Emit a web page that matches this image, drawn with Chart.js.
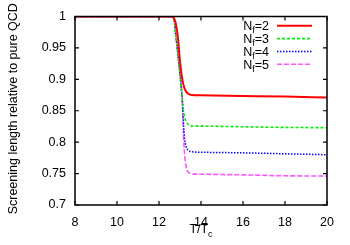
<!DOCTYPE html>
<html><head><meta charset="utf-8">
<script src="https://cdn.jsdelivr.net/npm/chart.js@4"></script>
<style>html,body{margin:0;padding:0;background:#fff}canvas{display:block}</style>
</head><body>
<canvas id="c" width="350" height="245"></canvas>
<script>
const temps = [8, 12.6, 12.7, 12.8, 12.9, 13.0, 13.1, 13.2, 13.3, 13.4, 13.5, 14, 16, 18, 20];
const nf2 = [1, 1, 0.998, 0.989, 0.967, 0.929, 0.902, 0.887, 0.880, 0.877, 0.8755, 0.8745, 0.8735, 0.8725, 0.871];
const nf3 = [1, 1, 0.997, 0.970, 0.940, 0.908, 0.871, 0.843, 0.832, 0.828, 0.826, 0.8255, 0.8245, 0.8235, 0.823];
const nf4 = [1, 1, 0.997, 0.970, 0.940, 0.908, 0.871, 0.812, 0.792, 0.787, 0.785, 0.784, 0.783, 0.7815, 0.780];
const nf5 = [1, 1, 0.997, 0.970, 0.940, 0.908, 0.871, 0.789, 0.760, 0.752, 0.750, 0.749, 0.748, 0.7465, 0.746];
const seriesNames = ["2", "3", "4", "5"];
const xTicks = [8, 10, 12, 14, 16, 18, 20];
const yTicks = [0.7, 0.75, 0.8, 0.85, 0.9, 0.95, 1];
const yTitle = "Screening length relative to pure QCD";

const FONT = "Liberation Sans, Arial, sans-serif";
const styles = [
  {color: '#ff0000', width: 2, dash: []},
  {color: '#00ee00', width: 1.6, dash: [3, 2]},
  {color: '#0000ff', width: 1.5, dash: [1.5, 1.5]},
  {color: '#ff55ff', width: 1.6, dash: [5, 2]}
];
const all = [nf2, nf3, nf4, nf5];
const datasets = all.map((arr, i) => ({
  label: 'Nf=' + seriesNames[i],
  data: temps.map((t, j) => ({x: t, y: arr[j]})),
  borderColor: styles[i].color,
  borderWidth: styles[i].width,
  borderDash: styles[i].dash,
  pointRadius: 0,
  fill: false,
  cubicInterpolationMode: 'monotone'
}));

const deco = {
  id: 'deco',
  afterDatasetsDraw(chart) {
    const ctx = chart.ctx, a = chart.chartArea;
    const xs = chart.scales.x, ys = chart.scales.y;
    ctx.save();
    ctx.strokeStyle = '#000';
    ctx.lineWidth = 1.5;
    ctx.setLineDash([]);
    ctx.strokeRect(a.left, a.top, a.right - a.left, a.bottom - a.top);
    ctx.lineWidth = 1.2;
    ctx.beginPath();
    xTicks.forEach(v => {
      const px = xs.getPixelForValue(v);
      ctx.moveTo(px, a.bottom); ctx.lineTo(px, a.bottom - 4);
      ctx.moveTo(px, a.top); ctx.lineTo(px, a.top + 4);
    });
    yTicks.forEach(v => {
      const py = ys.getPixelForValue(v);
      ctx.moveTo(a.left, py); ctx.lineTo(a.left + 4, py);
      ctx.moveTo(a.right, py); ctx.lineTo(a.right - 4, py);
    });
    ctx.stroke();

    // legend
    ctx.fillStyle = '#000';
    ctx.textBaseline = 'alphabetic';
    const big = '12.5px ' + FONT, small = '9px ' + FONT;
    const rows = [25.7, 38.6, 51.4, 64.3];
    seriesNames.forEach((n, i) => {
      const y = rows[i];
      const base = y + 4.5;
      const rightX = 269;
      ctx.font = big;
      const wEq = ctx.measureText('=' + n).width;
      const wN = ctx.measureText('N').width;
      ctx.font = small;
      const wf = ctx.measureText('f').width;
      let x0 = rightX - wEq - wf - wN;
      ctx.font = big; ctx.textAlign = 'left';
      ctx.fillText('N', x0, base);
      ctx.font = small;
      ctx.fillText('f', x0 + wN, base + 3);
      ctx.font = big;
      ctx.fillText('=' + n, x0 + wN + wf, base);
      const s = styles[i];
      ctx.strokeStyle = s.color;
      ctx.lineWidth = s.width;
      ctx.setLineDash(s.dash);
      ctx.beginPath();
      ctx.moveTo(277, y); ctx.lineTo(312, y);
      ctx.stroke();
    });
    ctx.setLineDash([]);

    // x title T/Tc
    ctx.fillStyle = '#000';
    ctx.font = big;
    const w1 = ctx.measureText('T/T').width;
    ctx.font = small;
    const w2 = ctx.measureText('c').width;
    const cx = (a.left + a.right) / 2;
    const sx = cx - (w1 + w2) / 2;
    ctx.font = big; ctx.textAlign = 'left';
    ctx.fillText('T/T', sx, 233);
    ctx.font = small;
    ctx.fillText('c', sx + w1, 236.5);

    // y title
    ctx.font = big;
    ctx.translate(17, (a.top + a.bottom) / 2 - 2);
    ctx.rotate(-Math.PI / 2);
    ctx.textAlign = 'center';
    ctx.fillText(yTitle, 0, 0);
    ctx.restore();
  }
};

new Chart(document.getElementById('c'), {
  type: 'line',
  data: {datasets},
  options: {
    responsive: false,
    animation: false,
    devicePixelRatio: 1,
    layout: {padding: {top: 15, right: 23, left: 0, bottom: 0}},
    plugins: {legend: {display: false}, tooltip: {enabled: false}},
    scales: {
      x: {
        type: 'linear', min: 8, max: 20,
        afterBuildTicks: s => { s.ticks = xTicks.map(v => ({value: v})); },
        afterFit: s => { s.height = 40; },
        grid: {display: false, drawTicks: false},
        border: {display: false},
        ticks: {color: '#000', font: {family: FONT, size: 12.5}, padding: 10, maxRotation: 0,
                callback: v => String(v)}
      },
      y: {
        type: 'linear', min: 0.7, max: 1,
        afterBuildTicks: s => { s.ticks = yTicks.map(v => ({value: v})); },
        afterFit: s => { s.width = 75; },
        grid: {display: false, drawTicks: false},
        border: {display: false},
        ticks: {color: '#000', font: {family: FONT, size: 12.5}, padding: 9,
                callback: v => String(Number(v.toFixed(2)))}
      }
    }
  },
  plugins: [deco]
});
</script>
</body></html>
